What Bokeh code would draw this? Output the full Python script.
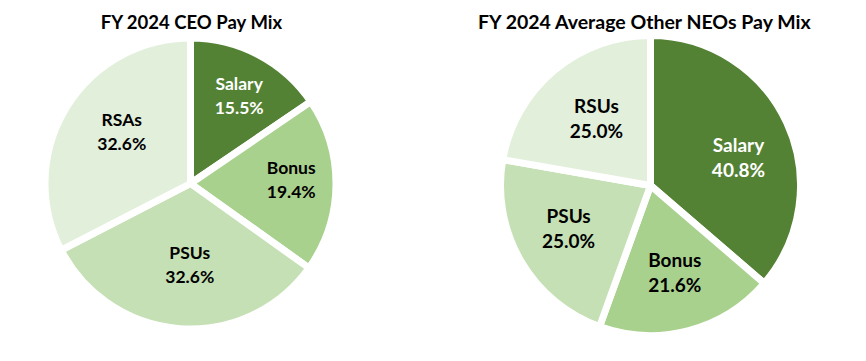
import numpy as np
from bokeh.plotting import figure
from bokeh.models import Range1d, ColumnDataSource
from bokeh.core.properties import value
from bokeh.embed import file_html
from bokeh.resources import INLINE

# ---- data ----
ceo_title = "FY 2024 CEO Pay Mix"
ceo_labels = ["Salary", "Bonus", "PSUs", "RSAs"]
ceo_values = [15.5, 19.4, 32.6, 32.6]

neo_title = "FY 2024 Average Other NEOs Pay Mix"
neo_labels = ["Salary", "Bonus", "PSUs", "RSUs"]
neo_values = [40.8, 21.6, 25.0, 25.0]

colors = ["#548235", "#A9D18E", "#C5E0B4", "#E2EFDA"]
label_colors = ["white", "black", "black", "black"]

# ---- style / layout ----
W, H = 850, 345
FONT = "Lato"

p = figure(width=W, height=H, output_backend="svg", toolbar_location=None,
           x_range=Range1d(0, W), y_range=Range1d(0, H),
           x_axis_location=None, y_axis_location=None, min_border=0)
p.grid.visible = False
p.outline_line_color = None
p.background_fill_color = "white"
p.border_fill_color = "white"


def draw_pie(cx, cy, radius, labels, values, label_fracs, label_rot, font_px, line_gap,
             title, tx, ty, title_px):
    vals = np.array(values, dtype=float)
    frac = vals / vals.sum()
    cum = np.concatenate([[0], np.cumsum(frac)])
    start = np.pi / 2 - cum[:-1] * 2 * np.pi
    end = np.pi / 2 - cum[1:] * 2 * np.pi
    src = ColumnDataSource(dict(start=start, end=end, color=colors))
    p.wedge(x=cx, y=cy, radius=radius, start_angle="start", end_angle="end",
            direction="clock", fill_color="color", line_color="white",
            line_width=7, source=src)
    mid = np.pi / 2 - (cum[:-1] + cum[1:]) / 2 * 2 * np.pi - np.radians(label_rot)
    r_vis = radius - 3.5
    lx = cx + np.array(label_fracs) * r_vis * np.cos(mid)
    ly = cy + np.array(label_fracs) * r_vis * np.sin(mid)
    pct = ["%.1f%%" % v for v in values]
    lsrc = ColumnDataSource(dict(x=lx, y1=ly + line_gap / 2, y2=ly - line_gap / 2,
                                 name=labels, pct=pct, c=label_colors))
    for ycol, tcol in (("y1", "name"), ("y2", "pct")):
        p.text(x="x", y=ycol, text=tcol, source=lsrc, text_color="c",
               text_align="center", text_baseline="middle",
               text_font=value(FONT), text_font_style="bold",
               text_font_size="%.1fpx" % font_px)
    p.text(x=[tx], y=[ty], text=[title], text_align="center", text_baseline="middle",
           text_font=value(FONT), text_font_style="bold",
           text_font_size="%.1fpx" % title_px, text_color="black")


draw_pie(190, 162, 145.5, ceo_labels, ceo_values,
         [0.71, 0.71, 0.57, 0.605], [1.0, -3.0, -3.6, 5.5],
         17.5, 24, ceo_title, 191.5, 324, 18.5)
draw_pie(650, 160, 150, neo_labels, neo_values,
         [0.63, 0.61, 0.63, 0.59], [7.0, -1.0, 2.7, 1.3],
         19, 25, neo_title, 645, 324, 19.5)

open("out.html", "w").write(file_html(p, INLINE))
